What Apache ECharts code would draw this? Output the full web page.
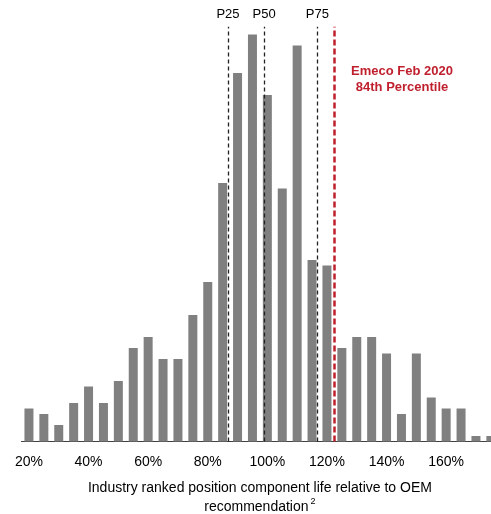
<!DOCTYPE html>
<html>
<head>
<meta charset="utf-8">
<script src="https://cdn.jsdelivr.net/npm/echarts@6/dist/echarts.min.js"></script>
<style>
html,body{margin:0;padding:0;background:#fff;overflow:hidden;}
#chart{width:491px;height:514px;}
</style>
</head>
<body>
<div id="chart"></div>
<script>
// Bins of component life relative to OEM recommendation (5% steps)
const categories = ['20%','25%','30%','35%','40%','45%','50%','55%','60%','65%','70%','75%',
  '80%','85%','90%','95%','100%','105%','110%','115%','120%','125%','130%','135%',
  '140%','145%','150%','155%','160%','165%','170%','175%'];
const counts = [6,5,3,7,10,7,11,17,19,15,15,23,29,47,67,74,63,46,72,33,32,17,19,19,16,5,16,8,6,6,1,1];
const percentileNames = ['P25','P50','P75'];
const percentileValues = [86.8, 98.9, 116.8];
const emecoValue = 122.4;
const emecoLabel = ['Emeco Feb 2020', '84th Percentile'];
const axisTitle = 'Industry ranked position component life relative to OEM';
const axisTitle2 = 'recommendation';

const FONT = 'Liberation Sans, Arial, sans-serif';
const lineTop = 75.4;
const binLow = 17.5, binHigh = 17.5 + categories.length * 5;

const markLines = percentileValues.map((v, i) => [
  {coord: [v, 0], lineStyle: {color: '#222', width: 1.3, type: [4, 3]},
   label: {show: true, position: 'end', formatter: percentileNames[i], color: '#000',
           fontSize: 13, fontFamily: FONT, distance: 6}},
  {coord: [v, lineTop]}
]);
markLines.push([
  {coord: [emecoValue, 0], lineStyle: {color: '#C0202E', width: 2.5, type: [6, 3]},
   label: {show: false}},
  {coord: [emecoValue, lineTop]}
]);

const chart = echarts.init(document.getElementById('chart'));
chart.setOption({
  animation: false,
  backgroundColor: '#fff',
  grid: {left: 21.5, width: 476.8, top: 1.5, height: 440, containLabel: false, outerBoundsMode: 'none'},
  xAxis: [{
    type: 'category',
    data: categories,
    axisLine: {lineStyle: {color: '#404040', width: 1}},
    axisTick: {show: false},
    axisLabel: {interval: 3, color: '#000', fontSize: 14, fontFamily: FONT, margin: 14},
    name: axisTitle + '\n' + axisTitle2 + '{s|2}',
    nameLocation: 'middle',
    nameGap: 37,
    nameTextStyle: {color: '#000', fontSize: 14, fontFamily: FONT, lineHeight: 19,
      rich: {s: {fontSize: 9, fontFamily: FONT, color: '#000', verticalAlign: 'top', padding: [0,0,0,2], lineHeight: 12}}}
  }, {
    type: 'value', min: binLow, max: binHigh, show: false
  }],
  yAxis: {type: 'value', min: 0, max: 80, show: false},
  series: [{
    type: 'bar',
    data: counts,
    barWidth: 9,
    itemStyle: {color: '#808080'},
    silent: true
  }, {
    type: 'line',
    xAxisIndex: 1,
    data: [[binLow, 0]],
    symbol: 'none',
    lineStyle: {opacity: 0},
    silent: true,
    markLine: {symbol: 'none', silent: true, data: markLines},
    markPoint: {
      silent: true,
      symbol: 'circle', symbolSize: 1,
      itemStyle: {color: 'rgba(0,0,0,0)'},
      label: {show: true, position: 'inside', color: '#C0202E', fontSize: 13, fontWeight: 'bold',
              fontFamily: FONT, lineHeight: 16, align: 'center', verticalAlign: 'middle',
              formatter: emecoLabel.join('\n')},
      data: [{coord: [145.2, 65.9]}]
    }
  }]
});
</script>
</body>
</html>
